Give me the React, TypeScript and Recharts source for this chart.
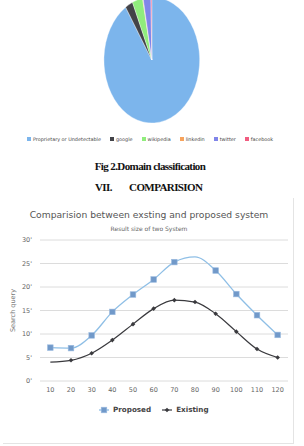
import { PieChart, Pie, Cell, LineChart, Line, XAxis, YAxis, CartesianGrid } from "recharts";

// pie: domain classification
const domains = ["Proprietary or Undetectable", "google", "wikipedia", "linkedin", "twitter", "facebook"];
const domainShare = [90.8, 2.6, 3.5, 0.2, 2.6, 0.3];
const domainColors = ["#7cb5ec", "#434348", "#90ed7d", "#f7a35c", "#8085e9", "#f15c80"];

// line chart: result size of two systems
const resultSizes = [10, 20, 30, 40, 50, 60, 70, 80, 90, 100, 110, 120];
const proposed = [7.1, 7.0, 9.7, 14.7, 18.4, 21.6, 25.3, 26.4, 23.5, 18.5, 14.0, 9.8];
const existing = [4.0, 4.4, 5.9, 8.7, 12.1, 15.4, 17.2, 16.8, 14.3, 10.5, 6.8, 5.0];
const yTicks = [0, 5, 10, 15, 20, 25, 30];
const bandEdges = [5, 15, 25, 35, 45, 55, 65, 75, 85, 95, 105, 115, 125];

// points drawn without a marker in the original
const proposedHidden = [7];
const existingHidden = [0];

const pieData = domains.map((name, i) => ({ name, value: domainShare[i] }));
const lineData = resultSizes.map((x, i) => ({ x, proposed: proposed[i], existing: existing[i] }));

const SANS = "'DejaVu Sans', Verdana, sans-serif";
const SERIF = "'Liberation Serif', 'Times New Roman', serif";

const SquareDot = (props: any) => {
  const { cx, cy, index } = props;
  if (cx == null || proposedHidden.includes(index)) return <g key={`ps-${index}`} />;
  return <rect key={`ps-${index}`} x={cx - 2.8} y={cy - 2.8} width={5.6} height={5.6} fill="#7199c9" stroke="#9bbbe0" strokeWidth={0.6} />;
};

const DiamondDot = (props: any) => {
  const { cx, cy, index } = props;
  if (cx == null || existingHidden.includes(index)) return <g key={`ex-${index}`} />;
  const r = 2.3;
  return <path key={`ex-${index}`} d={`M${cx},${cy - r}L${cx + r},${cy}L${cx},${cy + r}L${cx - r},${cy}Z`} fill="#3a3a3e" />;
};

export default function App() {
  return (
    <div style={{ position: "fixed", left: 0, top: 0, width: 304, height: 446, background: "#fff", overflow: "hidden" }}>
      {/* pie, squeezed horizontally like the scanned figure */}
      <div style={{ position: "absolute", left: 78, top: -15, width: 140, height: 140, transform: "scaleX(0.76)", transformOrigin: "center" }}>
        <PieChart width={140} height={140}>
          <Pie
            data={pieData}
            dataKey="value"
            cx={70}
            cy={70}
            outerRadius={63}
            startAngle={90}
            endAngle={-270}
            stroke="#fff"
            strokeWidth={0.4}
            isAnimationActive={false}
          >
            {pieData.map((d, i) => (
              <Cell key={d.name} fill={domainColors[i]} />
            ))}
          </Pie>
        </PieChart>
      </div>

      {/* pie legend */}
      <div style={{ position: "absolute", left: 27, top: 136, display: "flex", gap: 9, fontFamily: SANS, fontSize: 4.9, color: "#444", whiteSpace: "nowrap" }}>
        {domains.map((d, i) => (
          <div key={d} style={{ display: "flex", alignItems: "center", gap: 2 }}>
            <span style={{ width: 4, height: 4, background: domainColors[i], display: "inline-block" }} />
            <span>{d}</span>
          </div>
        ))}
      </div>

      <div style={{ position: "absolute", left: 0, width: 300, top: 160, textAlign: "center", fontFamily: SERIF, fontWeight: 700, fontSize: 11, letterSpacing: -0.6, color: "#111" }}>
        Fig 2.Domain classification
      </div>
      <div style={{ position: "absolute", left: 95, top: 181, fontFamily: SERIF, fontWeight: 700, fontSize: 11, letterSpacing: -0.6, color: "#111", whiteSpace: "pre" }}>
        {"VII.        COMPARISION"}
      </div>

      {/* chart frame */}
      <div style={{ position: "absolute", left: 3, top: 198, width: 290, height: 245, borderRight: "1px solid #e4e4e4", borderBottom: "1px solid #e4e4e4" }} />

      <div style={{ position: "absolute", left: 0, top: 209, width: 298, textAlign: "center", fontFamily: SANS, fontSize: 9.2, color: "#555" }}>
        Comparision between exsting and proposed system
      </div>
      <div style={{ position: "absolute", left: 0, top: 225, width: 298, textAlign: "center", fontFamily: SANS, fontSize: 6, color: "#666" }}>
        Result size of two System
      </div>

      <div style={{ position: "absolute", left: 0, top: 195 }}>
        <LineChart width={304} height={250} data={lineData} margin={{ top: 45, right: 16, bottom: 44, left: 0 }}>
          <CartesianGrid vertical={false} stroke="#dcdcdc" />
          <XAxis
            xAxisId="edges"
            type="number"
            domain={[5, 125]}
            ticks={bandEdges}
            tick={false}
            tickSize={5}
            stroke="#c8c8c8"
            height={0}
          />
          <XAxis
            xAxisId="v"
            dataKey="x"
            type="number"
            domain={[5, 125]}
            ticks={resultSizes}
            axisLine={false}
            tickLine={false}
            tickMargin={0}
            height={20}
            tick={{ fontSize: 6.5, fill: "#666", fontFamily: SANS }}
          />
          <YAxis
            width={40}
            domain={[0, 30]}
            ticks={yTicks}
            axisLine={false}
            tickLine={false}
            tick={{ fontSize: 6.5, fill: "#666", fontFamily: SANS }}
            tickFormatter={(v) => `${v}'`}
            label={{
              content: ({ viewBox }: any) => (
                <text
                  x={viewBox.x + 15}
                  y={viewBox.y + viewBox.height / 2}
                  transform={`rotate(-90 ${viewBox.x + 15} ${viewBox.y + viewBox.height / 2})`}
                  textAnchor="middle"
                  fontSize={6.5}
                  fill="#777"
                  fontFamily={SANS}
                >
                  Search query
                </text>
              ),
            }}
          />
          <Line xAxisId="v" type="monotone" dataKey="proposed" stroke="#8fbfe6" strokeWidth={1.3} dot={SquareDot} activeDot={false} isAnimationActive={false} />
          <Line xAxisId="v" type="monotone" dataKey="existing" stroke="#3a3a3e" strokeWidth={1.2} dot={DiamondDot} activeDot={false} isAnimationActive={false} />
        </LineChart>
      </div>

      {/* series legend */}
      <div style={{ position: "absolute", left: 99, top: 405, display: "flex", alignItems: "center", gap: 11, fontFamily: SANS, fontSize: 7.2, fontWeight: 700, color: "#444" }}>
        <div style={{ display: "flex", alignItems: "center", gap: 4 }}>
          <svg width={10} height={8}>
            <line x1={0} y1={4} x2={10} y2={4} stroke="#8fbfe6" strokeWidth={1.3} />
            <rect x={2.2} y={1.2} width={5.6} height={5.6} fill="#7199c9" stroke="#9bbbe0" strokeWidth={0.6} />
          </svg>
          <span>Proposed</span>
        </div>
        <div style={{ display: "flex", alignItems: "center", gap: 4 }}>
          <svg width={10} height={8}>
            <line x1={0} y1={4} x2={10} y2={4} stroke="#3a3a3e" strokeWidth={1.2} />
            <path d="M5,1.7L7.3,4L5,6.3L2.7,4Z" fill="#3a3a3e" />
          </svg>
          <span>Existing</span>
        </div>
      </div>
    </div>
  );
}
